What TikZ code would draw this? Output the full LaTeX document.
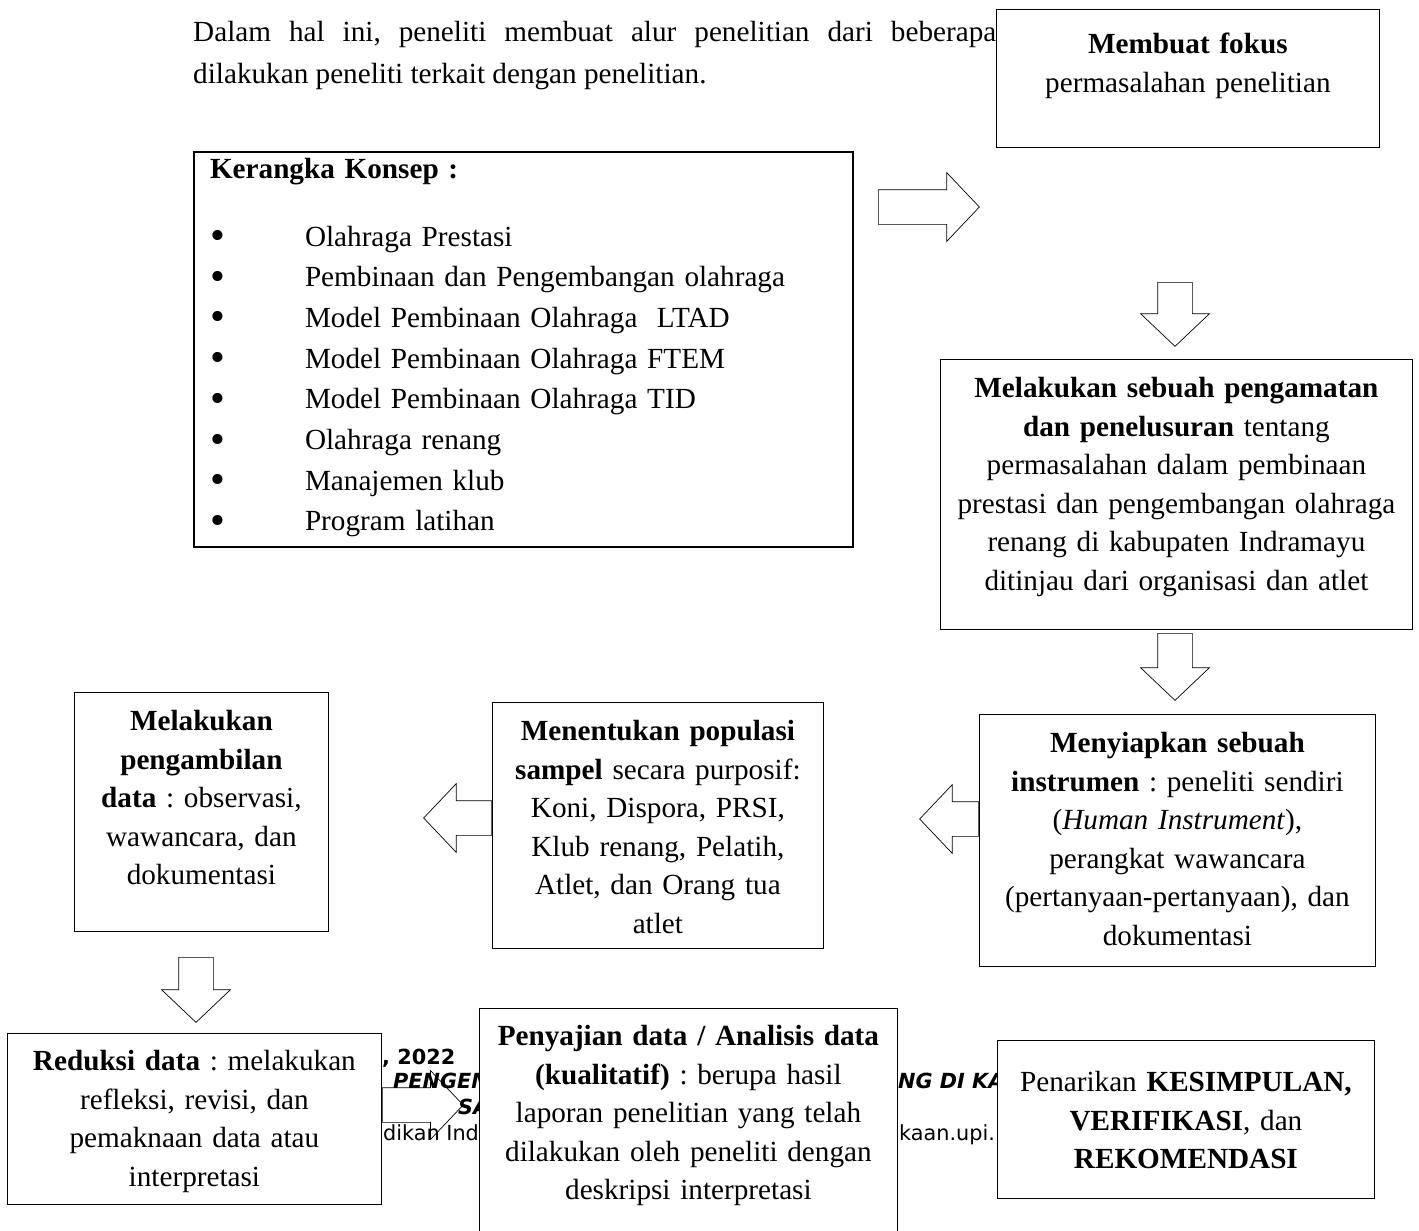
\documentclass[tikz,border=0pt]{standalone}
\usepackage{fontspec}
\setmainfont{Liberation Serif}
\newfontfamily\footerfont{DejaVu Sans}
\usepackage{graphicx}
\usepackage{tikz}
\usetikzlibrary{shapes.arrows}
\tikzset{box/.style={draw, fill=white, inner sep=0pt, align=center,
  anchor=north west, line width=.8bp}}
\tikzset{blockarrow/.style={single arrow, draw, inner xsep=2bp, inner ysep=17bp,
  single arrow head extend=17bp, single arrow tip angle=93,
  anchor=tail, line width=.7bp, minimum height=#1}}
\tikzset{footer/.style={anchor=base west, inner sep=0pt,
  font=\footerfont#1\fontsize{20.8bp}{25bp}\selectfont}, footer/.default={}}
\newcommand\bulletitem[1]{\makebox[95bp][l]{\smash{\raisebox{-3.5bp}{\scalebox{1.45}{\textbullet}}}}#1}

\begin{document}
\begin{tikzpicture}[x=1bp, y=-1bp, font=\fontsize{29.2bp}{38.6bp}\selectfont\frenchspacing]
\useasboundingbox (0,0) rectangle (1419,1230);

\node[anchor=base west, inner sep=0pt] (intro1) at (193,41)
  {\makebox[803bp][s]{Dalam hal ini, peneliti membuat alur penelitian dari beberapa}};
\node[anchor=base west, inner sep=0pt] (intro2) at (193,83)
  {dilakukan peneliti terkait dengan penelitian.};

% footer of the page behind the chart
\node[footer=\bfseries] (tahun) at (382,1064) {, 2022};
\node[footer={\bfseries\itshape}] (judul1) at (393,1088) {PENGEM};
\node[footer={\bfseries\itshape}] (judul2) at (458,1114) {SA};
\node[footer={\bfseries\itshape}] (judul3) at (898,1088) {NG DI KA};
\node[footer] (univ) at (383,1140) {dikan Ind};
\node[footer] (situs) at (899,1140) {kaan.upi.};

\node[box, align=left, text width=627bp, inner xsep=16bp, inner ysep=0pt,
  text height=26bp, text depth=369bp, line width=2bp,
  font=\fontsize{29.2bp}{40.7bp}\selectfont\frenchspacing] (kerangka) at (193,151)
  {\textbf{Kerangka Konsep :}\\[27.3bp]
   \bulletitem{Olahraga Prestasi}\\
   \bulletitem{Pembinaan dan Pengembangan olahraga}\\
   \bulletitem{Model Pembinaan Olahraga\ \ LTAD}\\
   \bulletitem{Model Pembinaan Olahraga FTEM}\\
   \bulletitem{Model Pembinaan Olahraga TID}\\
   \bulletitem{Olahraga renang}\\
   \bulletitem{Manajemen klub}\\
   \bulletitem{Program latihan}};

\node[box, text width=383bp, text height=44bp, text depth=94bp] (fokus) at (996,9)
  {\textbf{Membuat fokus}\\ permasalahan penelitian};

\node[box, text width=472bp, text height=38bp, text depth=232bp] (amati) at (940,359)
  {\textbf{Melakukan sebuah pengamatan}\\
   \textbf{dan penelusuran} tentang\\
   permasalahan dalam pembinaan\\
   prestasi dan pengembangan olahraga\\
   renang di kabupaten Indramayu\\
   ditinjau dari organisasi dan atlet};

\node[box, text width=396bp, text height=38bp, text depth=214bp] (instrumen) at (979,714)
  {\textbf{Menyiapkan sebuah}\\
   \textbf{instrumen} : peneliti sendiri\\
   (\textit{Human Instrument}),\\
   perangkat wawancara\\
   (pertanyaan-pertanyaan), dan\\
   dokumentasi};

\node[box, text width=331bp, text height=38bp, text depth=208bp] (populasi) at (492,702)
  {\textbf{Menentukan populasi}\\
   \textbf{sampel} secara purposif:\\
   Koni, Dispora, PRSI,\\
   Klub renang, Pelatih,\\
   Atlet, dan Orang tua\\
   atlet};

\node[box, text width=254bp, text height=38bp, text depth=201bp] (ambil) at (74,692)
  {\textbf{Melakukan}\\
   \textbf{pengambilan}\\
   \textbf{data} : observasi,\\
   wawancara, dan\\
   dokumentasi};

\node[box, text width=374bp, text height=37bp, text depth=134bp] (reduksi) at (7,1033)
  {\textbf{Reduksi data} : melakukan\\
   refleksi, revisi, dan\\
   pemaknaan data atau\\
   interpretasi};

% runs past the bottom of the page
\node[box, text width=418bp, text height=37bp, text depth=230bp] (sajian) at (479,1008)
  {\textbf{Penyajian data / Analisis data}\\
   \textbf{(kualitatif)} : berupa hasil\\
   laporan penelitian yang telah\\
   dilakukan oleh peneliti dengan\\
   deskripsi interpretasi};

\node[box, text width=377bp, text height=51bp, text depth=107bp] (simpulan) at (997,1040)
  {Penarikan \textbf{KESIMPULAN,}\\
   \textbf{VERIFIKASI}, dan\\
   \textbf{REKOMENDASI}};

\node[blockarrow=101bp] (kerangka-fokus) at (878,207) {};
\node[blockarrow=64bp, rotate=-90] (fokus-amati) at (1175,282) {};
\node[blockarrow=67bp, rotate=-90] (amati-instrumen) at (1175,633) {};
\node[blockarrow=59bp, rotate=180] (instrumen-populasi) at (instrumen.west |- 0,819) {};
\node[blockarrow=68bp, rotate=180] (populasi-ambil) at (populasi.west |- 0,818) {};
\node[blockarrow=65bp, rotate=-90] (ambil-reduksi) at (196,957) {};
\node[blockarrow=81bp] (reduksi-sajian) at (reduksi.east |- 0,1105) {};

\end{tikzpicture}
\end{document}
